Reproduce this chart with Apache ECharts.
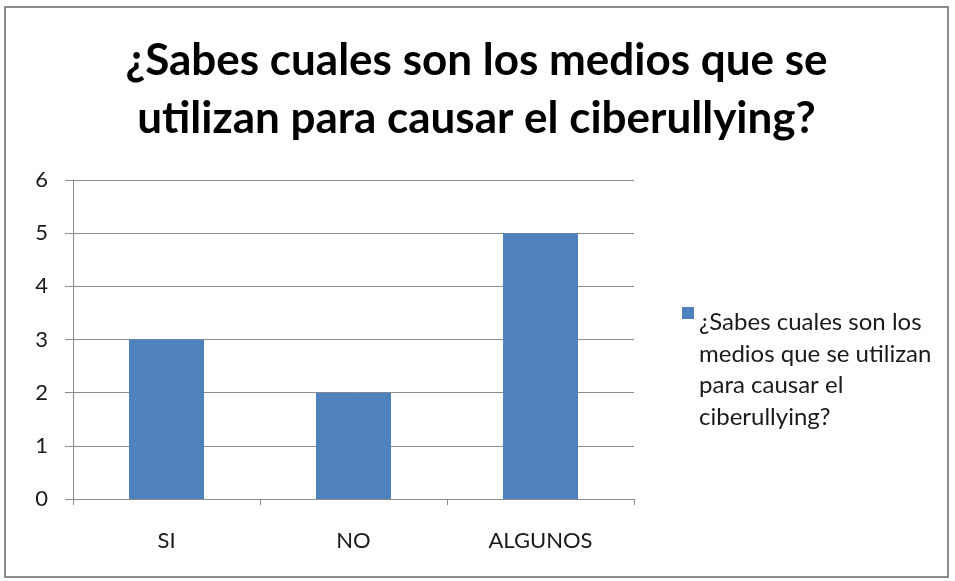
<!DOCTYPE html>
<html>
<head>
<meta charset="utf-8">
<script src="https://cdn.jsdelivr.net/npm/echarts@6/dist/echarts.min.js"></script>
<style>
  html, body { margin: 0; padding: 0; background: #fff; }
  #main { position: absolute; left: 4px; top: 6px; width: 945px; height: 572px; border: 2px solid #8c8c8c; box-sizing: border-box; }
</style>
</head>
<body>
<div id="main"></div>
<script>
var TITLE = '¿Sabes cuales son los medios que se\nutilizan para causar el ciberullying?';
var SERIES_NAME = '¿Sabes cuales son los medios que se utilizan para causar el ciberullying?';
var LEGEND_LINES = ['¿Sabes cuales son los', 'medios que se utilizan', 'para causar el', 'ciberullying?'];
var categories = ['SI', 'NO', 'ALGUNOS'];
var values = [3, 2, 5];

(function() {
    // chart area starts at page (6, 8) because of the frame
    var myChart = echarts.init(document.getElementById('main'));

    var option = {
        animation: false,
        textStyle: { fontFamily: 'Lato' },
        title: {
            text: TITLE,
            left: 'center',
            top: 19,
            textStyle: {
                fontFamily: 'Lato',
                fontWeight: 'bold',
                fontSize: 44,
                lineHeight: 58,
                color: '#000'
            }
        },
        legend: {
            orient: 'vertical',
            left: 671,
            top: 294,
            // square at the top of a tall box so it sits beside the first line
            icon: 'path://M0,0L12,0L12,12L0,12Z M12,126L12,126Z',
            itemWidth: 12,
            itemHeight: 126,
            itemGap: 6,
            data: [SERIES_NAME],
            formatter: function() { return LEGEND_LINES.join('\n'); },
            textStyle: {
                fontFamily: 'Lato',
                fontSize: 24,
                lineHeight: 31.5,
                color: '#1a1a1a'
            }
        },
        grid: { left: 67, right: 313, top: 172, bottom: 77 },
        xAxis: {
            type: 'category',
            data: categories,
            axisLine: { lineStyle: { color: '#8c8c8c', width: 1 } },
            axisTick: { show: true, length: 6, lineStyle: { color: '#8c8c8c' } },
            axisLabel: { margin: 31, fontSize: 22, color: '#1a1a1a', fontFamily: 'Lato' }
        },
        yAxis: {
            type: 'value',
            min: 0,
            max: 6,
            interval: 1,
            axisLine: { show: true, lineStyle: { color: '#8c8c8c', width: 1 } },
            axisTick: { show: true, length: 8, lineStyle: { color: '#8c8c8c' } },
            splitLine: { lineStyle: { color: '#8c8c8c', width: 1 } },
            axisLabel: { margin: 25, fontSize: 22, color: '#1a1a1a', fontFamily: 'Lato' }
        },
        series: [{
            name: SERIES_NAME,
            type: 'bar',
            data: values,
            barWidth: 75,
            itemStyle: { color: '#4f81bd' }
        }]
    };

    myChart.setOption(option);
})();
</script>
</body>
</html>
